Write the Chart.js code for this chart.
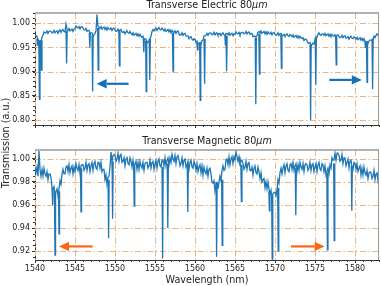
<!DOCTYPE html>
<html>
<head>
<meta charset="utf-8">
<script src="https://cdn.jsdelivr.net/npm/chart.js@4.4.1/dist/chart.umd.min.js"></script>
<style>
  html, body { margin: 0; padding: 0; background: #fff; }
  #wrap { position: relative; width: 381px; height: 286px; }
  #wrap canvas { position: absolute; left: 0; top: 0; }
</style>
</head>
<body>
<div id="wrap">
  <canvas id="te_chart" width="381" height="286"></canvas>
  <canvas id="tm_chart" width="381" height="286"></canvas>
</div>
<script>
// Wavelength grid of the baseline samples (nm), 8 samples per nm
const waveStart = 1540;
const waveStep = 0.125;

// Transverse Electric baseline (one row per nm, 1540 .. 1583)
const teBase = [
    0.978, 0.973, 0.973, 0.964, 0.963, 0.964, 0.960, 0.971,
    0.976, 0.982, 0.980, 0.980, 0.984, 0.979, 0.983, 0.984,
    0.983, 0.980, 0.981, 0.985, 0.980, 0.983, 0.984, 0.979,
    0.984, 0.986, 0.981, 0.985, 0.987, 0.983, 0.982, 0.998,
    0.988, 0.985, 0.989, 0.984, 0.986, 0.988, 0.983, 0.987,
    0.989, 0.994, 0.991, 0.990, 0.993, 0.988, 0.992, 0.993,
    0.990, 0.986, 0.986, 0.989, 0.983, 0.985, 0.985, 0.979,
    0.980, 0.980, 0.973, 0.976, 0.979, 0.984, 1.018, 0.993,
    0.992, 0.989, 0.993, 0.988, 0.990, 0.992, 0.987, 0.991,
    0.986, 0.991, 0.988, 0.987, 0.990, 0.985, 0.989, 0.990,
    0.986, 0.983, 0.984, 0.988, 0.983, 0.986, 0.987, 0.982,
    0.981, 0.983, 0.978, 0.982, 0.984, 0.980, 0.979, 0.983,
    0.979, 0.976, 0.980, 0.975, 0.977, 0.979, 0.974, 0.978,
    0.973, 0.977, 0.973, 0.971, 0.973, 0.966, 0.968, 0.967,
    0.963, 0.960, 0.962, 0.969, 0.973, 0.983, 0.987, 0.984,
    0.988, 0.990, 0.985, 0.989, 0.991, 0.987, 0.986, 0.990,
    0.987, 0.984, 0.988, 0.983, 0.985, 0.987, 0.982, 0.986,
    0.980, 0.985, 0.982, 0.981, 0.984, 0.979, 0.983, 0.984,
    0.978, 0.975, 0.976, 0.980, 0.975, 0.978, 0.979, 0.974,
    0.973, 0.974, 0.968, 0.971, 0.972, 0.967, 0.965, 0.968,
    0.966, 0.961, 0.963, 0.957, 0.958, 0.960, 0.957, 0.964,
    0.965, 0.974, 0.974, 0.975, 0.979, 0.975, 0.979, 0.980,
    0.979, 0.976, 0.977, 0.981, 0.976, 0.979, 0.980, 0.975,
    0.977, 0.979, 0.974, 0.978, 0.980, 0.976, 0.975, 0.979,
    0.979, 0.976, 0.980, 0.975, 0.977, 0.979, 0.974, 0.978,
    0.977, 0.982, 0.979, 0.978, 0.981, 0.976, 0.980, 0.981,
    0.981, 0.978, 0.979, 0.983, 0.978, 0.981, 0.982, 0.977,
    0.979, 0.979, 0.972, 0.973, 0.973, 0.971, 0.974, 0.981,
    0.983, 0.980, 0.984, 0.979, 0.981, 0.983, 0.978, 0.982,
    0.977, 0.982, 0.979, 0.978, 0.981, 0.976, 0.980, 0.981,
    0.978, 0.975, 0.976, 0.980, 0.975, 0.978, 0.979, 0.974,
    0.975, 0.977, 0.972, 0.976, 0.978, 0.974, 0.973, 0.977,
    0.975, 0.972, 0.976, 0.971, 0.973, 0.975, 0.970, 0.974,
    0.969, 0.973, 0.970, 0.968, 0.970, 0.964, 0.967, 0.967,
    0.964, 0.959, 0.958, 0.960, 0.953, 0.956, 0.959, 0.957,
    0.965, 0.972, 0.971, 0.977, 0.980, 0.976, 0.975, 0.978,
    0.978, 0.975, 0.979, 0.974, 0.976, 0.978, 0.973, 0.977,
    0.972, 0.977, 0.974, 0.973, 0.976, 0.971, 0.975, 0.976,
    0.973, 0.970, 0.971, 0.975, 0.970, 0.973, 0.974, 0.969,
    0.970, 0.972, 0.967, 0.971, 0.973, 0.969, 0.968, 0.972,
    0.970, 0.967, 0.971, 0.966, 0.968, 0.970, 0.965, 0.969,
    0.964, 0.968, 0.963, 0.960, 0.962, 0.958, 0.963, 0.965,
    0.965, 0.964, 0.967, 0.973, 0.970, 0.975, 0.978, 0.975,
    0.979
];

// TE resonance dips: [wavelength, shoulder level, bottom]
const teDips = [
    [1540.30, 0.968, 0.955], [1540.55, 0.963, 0.843], [1540.80, 0.965, 0.903],
    [1543.95, 0.985, 0.917], [1546.85, 0.980, 0.950], [1547.20, 0.975, 0.859],
    [1547.90, 0.990, 0.903], [1550.55, 0.984, 0.912], [1553.60, 0.968, 0.940],
    [1553.90, 0.964, 0.859], [1554.35, 0.968, 0.883], [1557.25, 0.980, 0.901],
    [1560.30, 0.960, 0.945], [1560.65, 0.958, 0.841], [1561.20, 0.968, 0.875],
    [1563.80, 0.975, 0.955], [1563.95, 0.974, 0.901], [1567.60, 0.970, 0.833],
    [1568.05, 0.978, 0.895], [1570.80, 0.976, 0.907], [1574.45, 0.955, 0.800],
    [1575.10, 0.970, 0.873], [1577.65, 0.973, 0.914], [1581.30, 0.963, 0.950],
    [1581.50, 0.962, 0.878], [1582.20, 0.968, 0.864]
];

// Transverse Magnetic baseline, same wavelength grid
const tmBase = [
    0.993, 0.988, 0.993, 0.985, 1.007, 0.991, 0.985, 0.991,
    0.985, 0.992, 0.987, 0.985, 0.989, 0.982, 0.987, 0.987,
    0.984, 0.975, 0.974, 0.976, 0.967, 0.972, 0.974, 0.968,
    0.974, 0.981, 0.978, 0.987, 0.991, 0.987, 0.987, 0.993,
    0.994, 0.989, 0.995, 0.988, 0.992, 0.994, 0.987, 0.993,
    0.989, 0.996, 0.992, 0.990, 0.995, 0.988, 0.994, 0.995,
    0.995, 0.990, 0.992, 0.997, 0.990, 0.995, 0.996, 0.989,
    0.994, 0.997, 0.990, 0.996, 0.998, 0.992, 0.991, 0.997,
    0.997, 0.992, 0.997, 0.989, 0.991, 0.991, 0.982, 0.986,
    0.978, 0.984, 0.985, 0.993, 1.006, 0.998, 1.003, 1.004,
    1.003, 0.998, 1.000, 1.005, 0.998, 1.003, 1.004, 0.997,
    0.998, 1.001, 0.994, 1.000, 1.002, 0.996, 0.995, 1.001,
    0.998, 0.993, 0.999, 0.992, 0.996, 0.998, 0.991, 0.997,
    0.991, 0.998, 0.994, 0.992, 0.997, 0.990, 0.996, 0.997,
    0.997, 0.992, 0.994, 0.999, 0.992, 0.997, 0.998, 0.991,
    0.996, 0.999, 0.992, 0.998, 1.000, 0.994, 0.993, 0.999,
    0.999, 0.994, 1.001, 0.994, 0.999, 1.001, 0.995, 1.001,
    0.997, 1.004, 1.000, 0.998, 1.003, 0.996, 1.002, 1.003,
    0.999, 0.994, 0.996, 1.001, 0.994, 0.999, 1.000, 0.993,
    0.995, 0.998, 0.991, 0.997, 0.999, 0.993, 0.992, 0.998,
    0.995, 0.990, 0.996, 0.989, 0.993, 0.995, 0.988, 0.994,
    0.986, 0.993, 0.989, 0.987, 0.992, 0.985, 0.991, 0.992,
    0.987, 0.980, 0.979, 0.981, 0.972, 0.977, 0.979, 0.974,
    0.980, 0.985, 0.981, 0.990, 0.994, 0.990, 0.991, 0.999,
    1.000, 0.995, 1.002, 0.995, 1.000, 1.002, 0.996, 1.002,
    0.999, 1.006, 1.002, 0.998, 1.002, 0.994, 0.999, 0.999,
    0.996, 0.991, 0.993, 0.998, 0.991, 0.996, 0.997, 0.990,
    0.990, 0.993, 0.986, 0.992, 0.994, 0.988, 0.987, 0.993,
    0.989, 0.983, 0.988, 0.980, 0.982, 0.983, 0.975, 0.980,
    0.974, 0.980, 0.974, 0.970, 0.973, 0.965, 0.970, 0.971,
    0.971, 0.968, 0.973, 0.982, 0.979, 0.988, 0.992, 0.987,
    0.992, 0.995, 0.988, 0.994, 0.996, 0.990, 0.989, 0.995,
    0.996, 0.991, 0.997, 0.990, 0.994, 0.996, 0.989, 0.995,
    0.990, 0.997, 0.993, 0.991, 0.996, 0.989, 0.995, 0.996,
    0.995, 0.990, 0.992, 0.997, 0.990, 0.995, 0.996, 0.989,
    0.993, 0.996, 0.989, 0.995, 0.997, 0.991, 0.990, 0.996,
    0.995, 0.989, 0.994, 0.986, 0.989, 0.992, 0.987, 0.995,
    0.992, 1.001, 0.999, 0.999, 1.005, 0.999, 1.005, 1.005,
    1.003, 0.998, 0.999, 1.004, 0.996, 1.001, 1.001, 0.994,
    0.997, 1.000, 0.992, 0.998, 0.999, 0.993, 0.991, 0.997,
    0.996, 0.991, 0.996, 0.989, 0.992, 0.994, 0.986, 0.992,
    0.986, 0.993, 0.988, 0.986, 0.990, 0.983, 0.988, 0.989,
    0.988, 0.983, 0.985, 0.990, 0.982, 0.987, 0.988, 0.981,
    0.985
];

const tmDips = [
    [1542.20, 0.975, 0.960], [1542.50, 0.970, 0.9165], [1543.00, 0.972, 0.935],
    [1545.75, 0.992, 0.954], [1549.20, 0.982, 0.931], [1549.70, 0.998, 0.948],
    [1552.40, 0.994, 0.959], [1555.95, 0.993, 0.9135], [1556.60, 0.996, 0.940],
    [1559.10, 0.995, 0.954], [1562.70, 0.980, 0.915], [1563.40, 0.982, 0.925],
    [1565.80, 0.995, 0.963], [1569.30, 0.972, 0.955], [1569.65, 0.968, 0.913],
    [1570.40, 0.975, 0.920], [1572.60, 0.992, 0.951], [1576.55, 0.988, 0.921],
    [1577.40, 0.996, 0.929], [1579.60, 0.994, 0.955]
];

// Tick labels
const xTicks = [1540, 1545, 1550, 1555, 1560, 1565, 1570, 1575, 1580];
const teYTicks = [0.80, 0.85, 0.90, 0.95, 1.00];
const tmYTicks = [0.92, 0.94, 0.96, 0.98, 1.00];

// Arrows: [from wavelength, to wavelength, level]
const teArrows = [[1551.7, 1547.7, 0.875], [1576.8, 1580.85, 0.883]];
const tmArrows = [[1547.2, 1543.0, 0.924], [1572.0, 1576.2, 0.924]];

const lineColor = '#1f77b4';
const gridColor = '#ebb583';
const gridDash = [6, 2.5, 1.5, 2.5];
const axisColor = '#333';
const textColor = '#222';
const fontFamily = '"DejaVu Sans", sans-serif';

Chart.defaults.font.family = fontFamily;

function buildBand(base) {
    return base.map((v, i) => ({ x: waveStart + i * waveStep, y: v }));
}

// narrow V for every dip, broken apart by nulls
function buildDips(dips) {
    const pts = [];
    dips.forEach(d => {
        pts.push({ x: d[0] - 0.07, y: d[1] });
        pts.push({ x: d[0], y: d[2] });
        pts.push({ x: d[0] + 0.07, y: d[1] });
        pts.push({ x: d[0] + 0.08, y: null });
    });
    return pts;
}

// panel title with italic unit, and optional shared y label
const titlePlugin = {
    id: 'panelTitle',
    afterDraw(chart, args, opts) {
        const { ctx, chartArea } = chart;
        ctx.save();
        ctx.fillStyle = textColor;
        ctx.textBaseline = 'middle';
        ctx.textAlign = 'left';
        const normal = '9.6px ' + fontFamily;
        const italic = 'italic 9.6px ' + fontFamily;
        ctx.font = normal;
        const w1 = ctx.measureText(opts.text).width;
        ctx.font = italic;
        const w2 = ctx.measureText('\u03bcm').width;
        const x = (chartArea.left + chartArea.right) / 2 - (w1 + w2) / 2;
        ctx.font = normal;
        ctx.fillText(opts.text, x, opts.y);
        ctx.font = italic;
        ctx.fillText('\u03bcm', x + w1, opts.y);
        if (opts.yLabel) {
            ctx.font = '9.6px ' + fontFamily;
            ctx.textAlign = 'center';
            ctx.translate(6, 143);
            ctx.rotate(-Math.PI / 2);
            ctx.fillText(opts.yLabel, 0, 0);
        }
        ctx.restore();
    }
};

// dash-dot grid behind the data
const gridPlugin = {
    id: 'dashGrid',
    beforeDatasetsDraw(chart) {
        const { ctx, chartArea: a, scales } = chart;
        ctx.save();
        ctx.strokeStyle = gridColor;
        ctx.lineWidth = 1;
        ctx.setLineDash(gridDash);
        ctx.beginPath();
        scales.x.ticks.forEach(t => {
            const px = Math.round(scales.x.getPixelForValue(t.value)) + 0.5;
            ctx.moveTo(px, a.top);
            ctx.lineTo(px, a.bottom);
        });
        scales.y.ticks.forEach(t => {
            const py = Math.round(scales.y.getPixelForValue(t.value)) + 0.5;
            ctx.moveTo(a.left, py);
            ctx.lineTo(a.right, py);
        });
        ctx.stroke();
        ctx.restore();
    }
};

// minor ticks, top/right frame and direction arrows
const framePlugin = {
    id: 'frame',
    afterDatasetsDraw(chart, args, opts) {
        const { ctx, chartArea, scales } = chart;
        const a = chartArea;
        ctx.save();
        ctx.strokeStyle = axisColor;
        ctx.lineWidth = 1;
        ctx.beginPath();
        for (let v = 1540; v <= 1583; v++) {
            if (v % 5 === 0) continue;
            const px = Math.round(scales.x.getPixelForValue(v)) + 0.5;
            ctx.moveTo(px, a.bottom);
            ctx.lineTo(px, a.bottom + 2);
        }
        const yMin = scales.y.min, yMax = scales.y.max;
        const steps = Math.round((yMax - yMin) / opts.yMinor) + 2;
        const first = Math.ceil(yMin / opts.yMinor);
        for (let k = first; k < first + steps; k++) {
            const v = k * opts.yMinor;
            if (v < yMin || v > yMax) continue;
            const py = Math.round(scales.y.getPixelForValue(v)) + 0.5;
            ctx.moveTo(a.left - 2, py);
            ctx.lineTo(a.left, py);
        }
        ctx.stroke();

        ctx.strokeStyle = '#999';
        ctx.lineWidth = 1.5;
        ctx.beginPath();
        ctx.moveTo(a.left, a.top);
        ctx.lineTo(a.right, a.top);
        ctx.stroke();
        ctx.lineWidth = 1;
        ctx.beginPath();
        ctx.moveTo(a.right - 0.5, a.top);
        ctx.lineTo(a.right - 0.5, a.bottom);
        ctx.stroke();

        opts.arrows.forEach(ar => {
            const x0 = scales.x.getPixelForValue(ar[0]);
            const x1 = scales.x.getPixelForValue(ar[1]);
            const y = scales.y.getPixelForValue(ar[2]);
            const dir = x1 > x0 ? 1 : -1;
            const head = 10;
            ctx.strokeStyle = opts.arrowColor;
            ctx.fillStyle = opts.arrowColor;
            ctx.lineWidth = 2.2;
            ctx.beginPath();
            ctx.moveTo(x0, y);
            ctx.lineTo(x1 - dir * head, y);
            ctx.stroke();
            ctx.beginPath();
            ctx.moveTo(x1, y);
            ctx.lineTo(x1 - dir * head, y - 4.7);
            ctx.lineTo(x1 - dir * head, y + 4.7);
            ctx.closePath();
            ctx.fill();
        });
        ctx.restore();
    }
};

function makeChart(id, cfg) {
    const ctx = document.getElementById(id).getContext('2d');
    return new Chart(ctx, {
        type: 'line',
        data: {
            datasets: [
                {
                    data: buildBand(cfg.base),
                    borderColor: lineColor,
                    borderWidth: 1.3,
                    pointRadius: 0,
                    tension: 0
                },
                {
                    data: buildDips(cfg.dips),
                    borderColor: lineColor,
                    borderWidth: 1.3,
                    pointRadius: 0,
                    tension: 0,
                    spanGaps: false
                }
            ]
        },
        options: {
            responsive: false,
            animation: false,
            events: [],
            layout: { padding: { left: 0, right: 2, top: cfg.top, bottom: cfg.bottom } },
            plugins: {
                legend: { display: false },
                tooltip: { enabled: false },
                panelTitle: { text: cfg.title, y: cfg.titleY, yLabel: cfg.yLabel },
                frame: { yMinor: cfg.yMinor, arrows: cfg.arrows, arrowColor: cfg.arrowColor }
            },
            scales: {
                x: {
                    type: 'linear',
                    min: 1540,
                    max: 1583,
                    afterBuildTicks: s => { s.ticks = xTicks.map(v => ({ value: v })); },
                    afterFit: s => { s.height = cfg.xHeight; },
                    ticks: {
                        display: cfg.showX,
                        font: { size: 8 },
                        color: textColor,
                        padding: 1,
                        maxRotation: 0,
                        callback: v => String(v)
                    },
                    title: {
                        display: cfg.showX,
                        text: 'Wavelength (nm)',
                        font: { size: 9.6 },
                        color: textColor,
                        padding: 0
                    },
                    grid: { drawOnChartArea: false, tickLength: 3, tickColor: axisColor },
                    border: { color: axisColor, width: 1 }
                },
                y: {
                    type: 'linear',
                    min: cfg.yMin,
                    max: cfg.yMax,
                    afterBuildTicks: s => { s.ticks = cfg.yTicks.map(v => ({ value: v })); },
                    afterFit: s => { s.width = 35; },
                    ticks: {
                        font: { size: 8 },
                        color: textColor,
                        padding: 2,
                        callback: v => v.toFixed(2)
                    },
                    grid: { drawOnChartArea: false, tickLength: 3, tickColor: axisColor },
                    border: { color: axisColor, width: 1 }
                }
            }
        },
        plugins: [gridPlugin, titlePlugin, framePlugin]
    });
}

const te_chart = makeChart('te_chart', {
    base: teBase, dips: teDips,
    top: 13, bottom: 151, xHeight: 10, showX: false,
    yMin: 0.79, yMax: 1.021, yTicks: teYTicks, yMinor: 0.01,
    title: 'Transverse Electric 80', titleY: 5,
    arrows: teArrows, arrowColor: '#1470b8'
});

const tm_chart = makeChart('tm_chart', {
    base: tmBase, dips: tmDips,
    top: 150, bottom: 0, xHeight: 26, showX: true,
    yMin: 0.9122, yMax: 1.0078, yTicks: tmYTicks, yMinor: 0.005,
    title: 'Transverse Magnetic 80', titleY: 141,
    yLabel: 'Transmission (a.u.)',
    arrows: tmArrows, arrowColor: '#ff6414'
});
</script>
</body>
</html>
